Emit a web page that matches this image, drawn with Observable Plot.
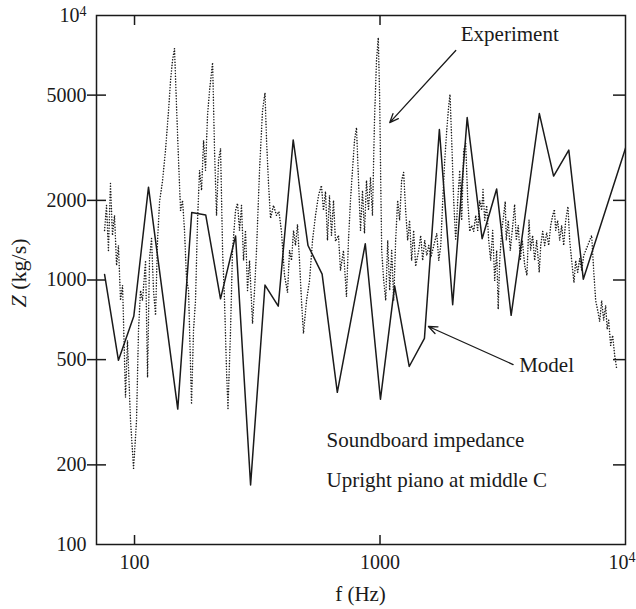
<!DOCTYPE html>
<html><head><meta charset="utf-8">
<script src="https://cdn.jsdelivr.net/npm/d3@7"></script>
<script src="https://cdn.jsdelivr.net/npm/@observablehq/plot@0.6"></script>
<style>html,body{margin:0;padding:0;background:#fff}#chart{width:636px;height:609px}</style>
</head><body><div id="chart"></div>
<script>
// Model (solid line): frequency (Hz) and impedance (kg/s)
const modelF = [75.5, 86, 99.3, 114, 150, 171, 195, 224, 258, 297, 340, 385, 443, 509, 581, 670, 871, 1004, 1147, 1315, 1517, 1745, 1977, 2265, 2606, 2986, 3421, 4457, 5095, 5875, 6731, 10000];
const modelZ = [1050, 497, 729, 2243, 325, 1798, 1762, 849, 1468, 168, 957, 796, 3386, 1350, 1052, 376, 1371, 354, 950, 471, 602, 3709, 807, 4111, 1433, 2209, 735, 4259, 2471, 3099, 1007, 3150];

// Experiment (dotted line)
const expF = [75.5, 76.9, 78.3, 79.8, 81.3, 82.9, 84.5, 86.0, 87.7, 89.4,
  91.9, 93.6, 96.3, 99.1, 101.9, 103.8, 105.8, 107.8, 110.9, 113.0,
  115.1, 117.3, 119.5, 121.8, 124.1, 126.5, 130.0, 133.7, 137.6, 140.2,
  142.8, 145.5, 148.3, 151.1, 154.0, 156.9, 159.8, 162.9, 166.0, 170.7,
  173.9, 177.2, 180.6, 184.0, 187.5, 191.1, 194.6, 198.3, 202.1, 208.0,
  211.8, 215.8, 219.9, 224.1, 228.4, 232.6, 237.0, 240.3, 246.1, 250.7,
  257.9, 262.8, 267.7, 272.8, 278.0, 283.2, 288.6, 294.1, 302.5, 308.2,
  314.0, 323.0, 332.2, 340.0, 345.0, 351.5, 358.2, 368.3, 378.8, 387.7,
  396.7, 408.3, 420.0, 428.0, 436.1, 444.3, 452.6, 461.2, 469.9, 478.7,
  487.7, 502.0, 516.3, 531.0, 546.0, 561.6, 577.4, 588.3, 599.7, 611.0,
  622.6, 634.3, 646.4, 658.6, 677.4, 690.2, 709.9, 730.2, 744.0, 758.1,
  772.4, 787.2, 802.1, 817.3, 832.8, 848.6, 864.5, 880.9, 897.5, 914.5,
  931.8, 949.5, 967.5, 983.9, 997.2, 1006.6, 1016, 1035, 1055, 1075,
  1095, 1116, 1137, 1158, 1180, 1202, 1225, 1248, 1272, 1296,
  1320, 1345, 1371, 1397, 1437, 1465, 1492, 1521, 1550, 1579,
  1609, 1656, 1703, 1735, 1768, 1801, 1835, 1870, 1905, 1928,
  1959, 1996, 2034, 2073, 2112, 2152, 2192, 2234, 2277, 2320,
  2364, 2408, 2454, 2500, 2548, 2596, 2628, 2670, 2720, 2772,
  2824, 2878, 2932, 2988, 3030, 3073, 3131, 3190, 3237, 3268,
  3330, 3393, 3457, 3535, 3590, 3658, 3727, 3798, 3885, 3967,
  4046, 4107, 4185, 4267, 4348, 4452, 4515, 4600, 4686, 4775,
  4866, 4958, 5052, 5134, 5196, 5294, 5394, 5496, 5600, 5707,
  5830, 5924, 6036, 6167, 6268, 6386, 6508, 6631, 6756, 6884,
  7014, 7147, 7282, 7420, 7560, 7703, 7849, 7998, 8149, 8303,
  8420, 8540, 8700, 8865, 9035, 9205];
const expZ = [1540, 1914, 1293, 2318, 1474, 1754, 1135, 1351, 837, 954,
  360, 591, 295, 194, 295, 645, 913, 837, 1185, 428,
  1205, 1435, 913, 735, 1412, 1982, 2361, 3087, 4374, 5680,
  6760, 7500, 4530, 2830, 1832, 2000, 1540, 1005, 913, 339,
  645, 837, 1680, 2597, 2180, 3370, 2597, 4188, 5200, 6640,
  3087, 1754, 2830, 3140, 1293, 837, 455, 327, 645, 1293,
  1832, 1950, 1540, 1914, 1185, 1540, 913, 1185, 685, 913,
  1293, 2597, 4374, 5100, 3370, 2300, 1710, 1914, 1754, 1815,
  1527, 1041, 897, 1293, 1185, 1540, 1351, 1622, 1185, 837,
  628, 837, 995, 1412, 1754, 2088, 2277, 1832, 2160, 1412,
  2088, 1474, 2000, 1400, 1474, 1087, 1293, 866, 1412, 2000,
  2597, 3370, 3770, 2380, 1540, 2180, 1500, 2380, 1832, 2440,
  1754, 4010, 6760, 8250, 4770, 2380, 1293, 995, 837, 1412,
  913, 1293, 837, 1412, 2000, 1680, 2380, 2550, 1832, 1412,
  1680, 1185, 1540, 1126, 1293, 1474, 1185, 1412, 1238, 1351,
  1216, 1351, 1500, 1185, 1351, 2000, 2830, 3680, 4569, 5030,
  3370, 2000, 1412, 2000, 2597, 1680, 3087, 3283, 2000, 1527,
  1608, 1527, 1754, 1540, 2000, 1832, 2200, 1680, 1914, 1412,
  1185, 1540, 995, 1293, 775, 1185, 1540, 1754, 1982, 1412,
  1680, 1293, 1540, 1930, 1412, 1608, 1185, 1412, 1135, 1041,
  1690, 1293, 1474, 1185, 1412, 1069, 1351, 1527, 1351, 1513,
  1351, 1608, 1754, 1850, 1540, 1680, 1412, 1608, 1351, 1680,
  1896, 1412, 1185, 977, 1185, 1069, 1205, 1087, 1238, 1293,
  1351, 1412, 1474, 1087, 837, 768, 697, 837, 704, 801,
  651, 704, 566, 617, 519, 463];

// Axis ticks
const xTicks = [100, 1000, 10000];
const xInnerTicks = [100, 1000];
const yEndTicks = [100, 10000];
const yInnerTicks = [200, 500, 1000, 2000, 5000];

// Annotations (positions in data units)
const labelText = ["Experiment", "Model", "Soundboard impedance", "Upright piano at middle C"];
const labelF = [2133, 3688, 606, 606];
const labelZ = [8527, 475, 247, 175];
const arrowF1 = [2035, 3485], arrowZ1 = [7372, 479];
const arrowF2 = [1095, 1575], arrowZ2 = [3935, 667];

const W = 636, H = 609, mL = 96, mR = 11, mT = 15, mB = 65;
const fw = W - mL - mR, fh = H - mT - mB;
const ink = "#1a1a1a";
const serif = '"Liberation Serif", "DejaVu Serif", serif';
const fmt = d => d === 10000 ? "10^4" : String(d);

const model = modelF.map((f, i) => ({f, z: modelZ[i]}));
const experiment = expF.map((f, i) => ({f, z: expZ[i]}));
const labels = labelText.map((t, i) => ({t, f: labelF[i], z: labelZ[i]}));
const arrows = arrowF1.map((f, i) => ({f1: f, z1: arrowZ1[i], f2: arrowF2[i], z2: arrowZ2[i]}));

const plot = Plot.plot({
  width: W, height: H,
  marginLeft: mL, marginRight: mR, marginTop: mT, marginBottom: mB,
  style: {fontFamily: serif, fontSize: "20px", color: ink, background: "#fff"},
  x: {type: "log", domain: [70, 10000]},
  y: {type: "log", domain: [100, 10000]},
  marks: [
    Plot.line(experiment, {x: "f", y: "z", stroke: ink, strokeWidth: 1.5, strokeDasharray: "0.1,2.7", strokeLinecap: "round", clip: true}),
    Plot.line(model, {x: "f", y: "z", stroke: ink, strokeWidth: 1.5, clip: true}),
    Plot.frame({stroke: ink, strokeWidth: 1.5}),
    Plot.axisY(yInnerTicks, {anchor: "left", tickSize: 9, tickPadding: 1, tickFormat: fmt, label: null, strokeWidth: 1.5}),
    Plot.axisY(yEndTicks, {anchor: "left", tickSize: 0, tickPadding: 10, tickFormat: fmt, label: null}),
    Plot.axisX(xTicks, {anchor: "bottom", tickSize: 0, tickPadding: 10, tickFormat: fmt, label: null}),
    Plot.tickY(yInnerTicks, {y: d => d, insetRight: fw - 10, stroke: ink, strokeWidth: 1.5}),
    Plot.tickY(yInnerTicks, {y: d => d, insetLeft: fw - 12, stroke: ink, strokeWidth: 1.5}),
    Plot.tickX(xInnerTicks, {x: d => d, insetTop: fh - 9, stroke: ink, strokeWidth: 1.5}),
    Plot.tickX(xInnerTicks, {x: d => d, insetBottom: fh - 10, stroke: ink, strokeWidth: 1.5}),
    Plot.arrow(arrows, {x1: "f1", y1: "z1", x2: "f2", y2: "z2", stroke: ink, strokeWidth: 1.3, headLength: 11, headAngle: 45}),
    Plot.text(labels, {x: "f", y: "z", text: "t", textAnchor: "start", fontSize: 21, fill: ink})
  ]
});

const svg = d3.select(plot);
// Render "10^4" as 10 with a superscript 4
svg.selectAll("text").each(function () {
  if (this.textContent !== "10^4") return;
  const t = d3.select(this);
  const isX = this.closest('[aria-label="x-axis tick label"]') !== null;
  t.text("");
  t.append("tspan").text("10");
  t.append("tspan").attr("dy", "-0.45em").style("font-size", "14px").text("4");
  if (isX) t.attr("text-anchor", "end").attr("dx", 10);
});

const xl = svg.append("text")
  .attr("x", (mL + W - mR) / 2).attr("y", 601)
  .attr("text-anchor", "middle").attr("fill", ink)
  .style("font-family", serif).style("font-size", "21px");
xl.append("tspan").text("f (Hz)");
const yl = svg.append("text")
  .attr("transform", "translate(26,273) rotate(-90)")
  .attr("text-anchor", "middle").attr("fill", ink)
  .style("font-family", serif).style("font-size", "22px");
yl.append("tspan").style("font-style", "italic").text("Z");
yl.append("tspan").text(" (kg/s)");

document.getElementById("chart").appendChild(plot);
</script>
</body></html>
